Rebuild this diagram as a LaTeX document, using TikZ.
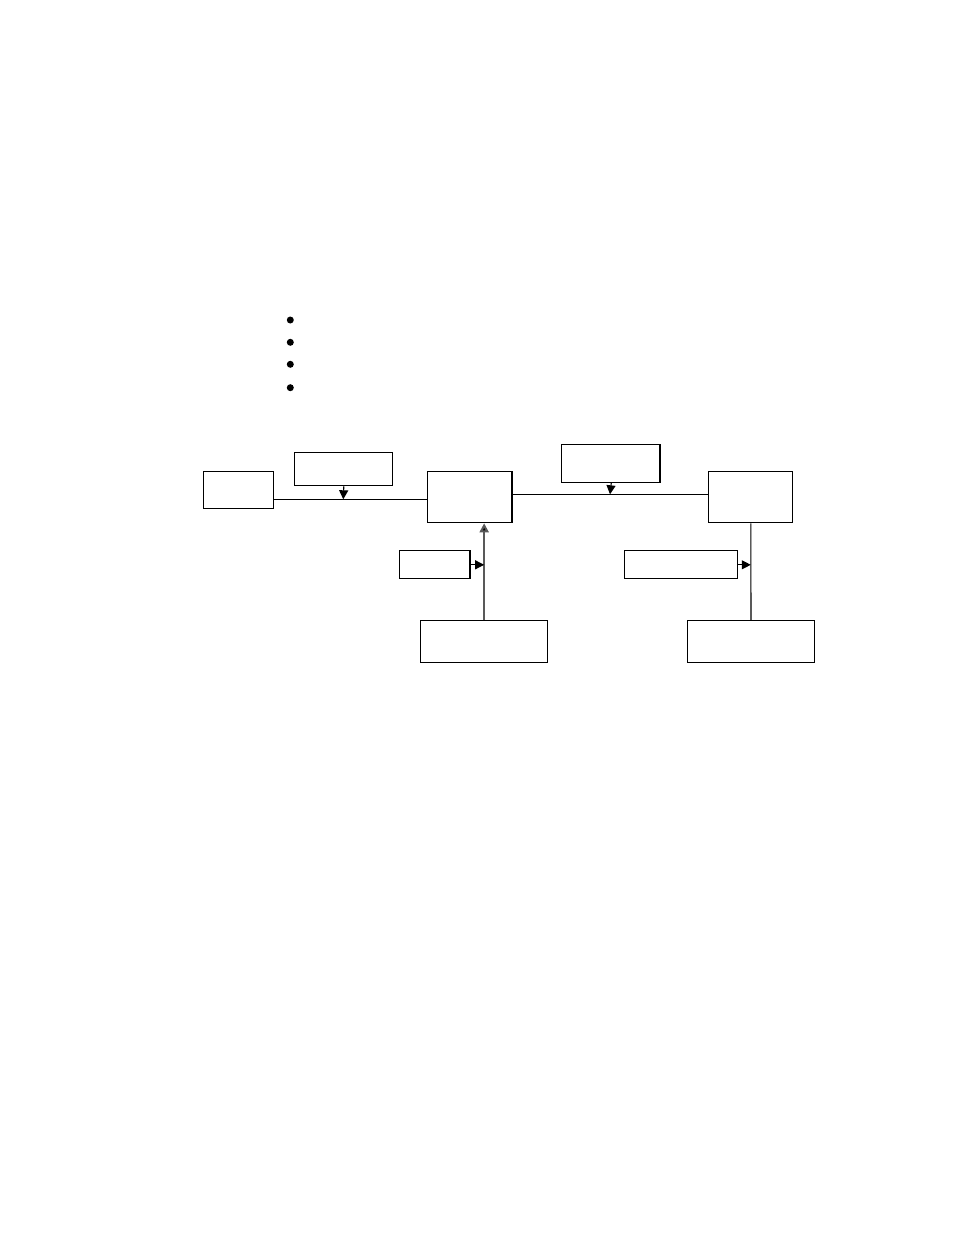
\documentclass[tikz,border=0pt]{standalone}
\usetikzlibrary{arrows.meta}
\begin{document}
\begin{tikzpicture}[x=1pt,y=-1pt,
  box/.style={draw=black,line width=1pt,fill=white,inner sep=0pt,anchor=north west},
  shadowed/.style={path picture={\draw[line width=3pt] (path picture bounding box.north east) -- (path picture bounding box.south east);}},
  conn/.style={line width=1.1pt},
  arr/.style={line width=1.1pt,-{Triangle[width=9pt,length=9pt]}},
  bul/.style={circle,fill=black,inner sep=0pt,minimum size=7pt}]
\useasboundingbox (0,0) rectangle (954,1235);
% bullets
\node[bul] (b1) at (290.3,320) {};
\node[bul] (b2) at (290.3,342.3) {};
\node[bul] (b3) at (290.3,364.3) {};
\node[bul] (b4) at (290.3,387.7) {};
% boxes
\node[box,minimum width=70pt,minimum height=37pt] (A) at (203.3,471.3) {};
\node[box,minimum width=98pt,minimum height=33pt] (B) at (294.3,452.3) {};
\node[box,shadowed,minimum width=85pt,minimum height=51pt] (C) at (427.3,471.3) {};
\node[box,shadowed,minimum width=71pt,minimum height=28pt] (D) at (399.3,550.3) {};
\node[box,minimum width=126.7pt,minimum height=42pt] (E) at (420.3,620.3) {};
\node[box,shadowed,minimum width=99pt,minimum height=37.4pt] (F) at (561.3,444.3) {};
\node[box,minimum width=84pt,minimum height=51pt] (G) at (708.3,471.3) {};
\node[box,minimum width=112.4pt,minimum height=28pt] (H) at (624.3,550.3) {};
\node[box,minimum width=126.4pt,minimum height=42pt] (I) at (687.3,620.3) {};
% junctions
\coordinate (j1) at (343.3,499.3);
\coordinate (j2) at (610,494.3);
% connectors
\draw[conn] (A.east|-j1) -- (C.west|-j1);
\draw[arr] (B.south) -- (j1);
\draw[conn] (C.east|-j2) -- (G.west|-j2);
\draw[arr] (F.south) -- (j2);
\draw[arr,draw=black!65,line width=2pt,-{Triangle[width=9pt,length=9pt,fill=black]}] (E.north) -- (E.north|-C.south);
\draw[arr] (D.east) -- (D.east-|E.north);
\draw[conn] (G.south) -- (I.north);
\draw[arr] (H.east) -- (H.east-|G.south);
\end{tikzpicture}
\end{document}
